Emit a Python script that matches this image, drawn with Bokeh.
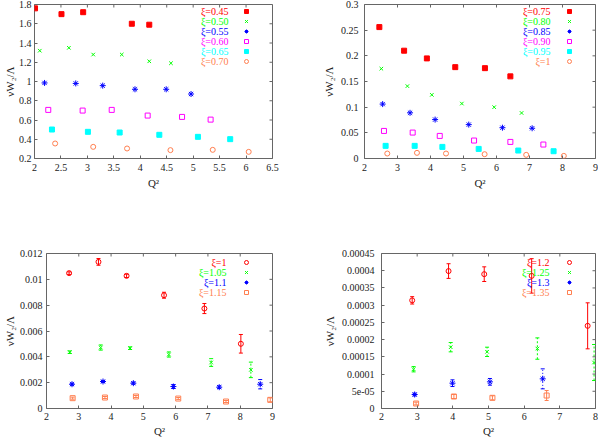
import math
from bokeh.plotting import figure
from bokeh.models import (Range1d, FixedTicker, Whisker, TeeHead,
                          ColumnDataSource, Label, Legend, LegendItem)
from bokeh.layouts import row, column
from bokeh.embed import file_html
from bokeh.resources import INLINE

FONT = "Liberation Serif"

RED = "#ff0000"
GREEN = "#00ff00"
BLUE = "#0000ff"
MAGENTA = "#ff00ff"
CYAN = "#00ffff"
ORANGE = "#ff7f50"

# ---------------- panel 1 data ----------------
p1_labels = ["ξ=0.45", "ξ=0.50", "ξ=0.55", "ξ=0.60", "ξ=0.65", "ξ=0.70"]
xi045_q2 = [2.01, 2.51, 2.92, 3.84, 4.17]
xi045_w = [1.76, 1.70, 1.72, 1.60, 1.59]
xi050_q2 = [2.10, 2.65, 3.11, 3.65, 4.17, 4.58]
xi050_w = [1.32, 1.35, 1.28, 1.28, 1.21, 1.19]
xi055_q2 = [2.19, 2.78, 3.29, 3.90, 4.49, 4.96]
xi055_w = [0.985, 0.98, 0.957, 0.919, 0.919, 0.870]
xi060_q2 = [2.26, 2.91, 3.46, 4.14, 4.79, 5.33]
xi060_w = [0.705, 0.698, 0.705, 0.646, 0.632, 0.604]
xi065_q2 = [2.33, 3.01, 3.61, 4.36, 5.09, 5.70]
xi065_w = [0.501, 0.477, 0.470, 0.446, 0.425, 0.401]
xi070_q2 = [2.39, 3.11, 3.75, 4.57, 5.37, 6.05]
xi070_w = [0.356, 0.321, 0.304, 0.287, 0.290, 0.269]
p1_xticks = [2, 2.5, 3, 3.5, 4, 4.5, 5, 5.5, 6, 6.5]
p1_xlabels = ["2", "2.5", "3", "3.5", "4", "4.5", "5", "5.5", "6", "6.5"]
p1_yticks = [0.2, 0.4, 0.6, 0.8, 1.0, 1.2, 1.4, 1.6, 1.8]
p1_ylabels = ["0.2", "0.4", "0.6", "0.8", "1", "1.2", "1.4", "1.6", "1.8"]

# ---------------- panel 2 data ----------------
p2_labels = ["ξ=0.75", "ξ=0.80", "ξ=0.85", "ξ=0.90", "ξ=0.95", "ξ=1"]
xi075_q2 = [2.45, 3.20, 3.89, 4.75, 5.65, 6.42]
xi075_w = [0.256, 0.210, 0.195, 0.178, 0.176, 0.160]
xi080_q2 = [2.51, 3.30, 4.04, 4.95, 5.93, 6.76]
xi080_w = [0.175, 0.141, 0.124, 0.107, 0.100, 0.0887]
xi085_q2 = [2.55, 3.38, 4.14, 5.16, 6.18, 7.08]
xi085_w = [0.106, 0.089, 0.0758, 0.066, 0.060, 0.0589]
xi090_q2 = [2.59, 3.46, 4.28, 5.32, 6.42, 7.42]
xi090_w = [0.0537, 0.0505, 0.044, 0.035, 0.0323, 0.0272]
xi095_q2 = [2.64, 3.52, 4.36, 5.46, 6.66, 7.73]
xi095_w = [0.0246, 0.0246, 0.0226, 0.0187, 0.0155, 0.0142]
xi100_q2 = [2.69, 3.59, 4.47, 5.64, 6.90, 8.04]
xi100_w = [0.0097, 0.011, 0.0097, 0.0084, 0.0071, 0.0051]
p2_xticks = [2, 3, 4, 5, 6, 7, 8, 9]
p2_xlabels = ["2", "3", "4", "5", "6", "7", "8", "9"]
p2_yticks = [0, 0.05, 0.1, 0.15, 0.2, 0.25, 0.3]
p2_ylabels = ["0", "0.05", "0.1", "0.15", "0.2", "0.25", "0.3"]

# ---------------- panel 3 data ----------------
p3_labels = ["ξ=1", "ξ=1.05", "ξ=1.1", "ξ=1.15"]
xi100b_q2 = [2.70, 3.61, 4.48, 5.64, 6.89, 8.02]
xi100b_w = [0.01048, 0.01135, 0.01027, 0.00877, 0.00774, 0.00501]
xi100b_err = [0.0001, 0.00026, 0.00013, 0.00023, 0.00039, 0.00072]
xi105_q2 = [2.72, 3.68, 4.59, 5.79, 7.10, 8.33]
xi105_w = [0.00436, 0.00472, 0.00467, 0.00418, 0.00356, 0.00299]
xi105_err = [0.0001, 0.0002, 0.0001, 0.0002, 0.0003, 0.0006]
xi110_q2 = [2.79, 3.75, 4.69, 5.93, 7.35, 8.62]
xi110_w = [0.00188, 0.00209, 0.00196, 0.0017, 0.00165, 0.00188]
xi110_err = [0.00008, 0.00008, 0.00008, 0.00015, 0.0001, 0.00036]
xi115_q2 = [2.81, 3.81, 4.77, 6.08, 7.56, 8.93]
xi115_w = [0.0008, 0.00085, 0.00093, 0.00077, 0.00054, 0.00067]
xi115_err = [0.00008, 0.00008, 0.00008, 0.00008, 0.00008, 0.00015]
p3_xticks = [2, 3, 4, 5, 6, 7, 8, 9]
p3_xlabels = ["2", "3", "4", "5", "6", "7", "8", "9"]
p3_yticks = [0, 0.002, 0.004, 0.006, 0.008, 0.01, 0.012]
p3_ylabels = ["0", "0.002", "0.004", "0.006", "0.008", "0.01", "0.012"]

# ---------------- panel 4 data ----------------
p4_labels = ["ξ=1.2", "ξ=1.25", "ξ=1.3", "ξ=1.35"]
xi120_q2 = [2.86, 3.88, 4.88, 6.21, 7.78]
xi120_w = [0.000314, 0.000399, 0.00039, 0.000385, 0.00024]
xi120_err = [0.0000107, 0.0000213, 0.0000213, 0.00005, 0.0000668]
xi125_q2 = [2.90, 3.94, 4.96, 6.37, 7.96]
xi125_w = [0.000114, 0.000178, 0.0001645, 0.000174, 0.0001335]
xi125_err = [0.0000077, 0.0000135, 0.0000135, 0.000031, 0.0000523]
xi130_q2 = [2.93, 3.99, 5.04, 6.52]
xi130_w = [0.0000406, 0.0000735, 0.0000774, 0.0000861]
xi130_err = [0.000004, 0.0000097, 0.0000097, 0.000029]
xi135_q2 = [2.97, 4.03, 5.11, 6.63]
xi135_w = [0.0000145, 0.0000348, 0.000031, 0.0000377]
xi135_err = [0.000004, 0.0000058, 0.0000058, 0.0000145]
p4_xticks = [2, 3, 4, 5, 6, 7, 8]
p4_xlabels = ["2", "3", "4", "5", "6", "7", "8"]
p4_yticks = [0, 0.00005, 0.0001, 0.00015, 0.0002, 0.00025, 0.0003, 0.00035, 0.0004, 0.00045]
p4_ylabels = ["0", "5e-05", "0.0001", "0.00015", "0.0002", "0.00025", "0.0003",
              "0.00035", "0.0004", "0.00045"]

STYLES = {
    "sq_fill": dict(marker="square", size=5, filled=True),
    "cross": dict(marker="x", size=5, filled=False),
    "star": dict(marker="asterisk", size=6, filled=False),
    "sq_open": dict(marker="square", size=5, filled=False),
    "circ_open": dict(marker="circle", size=5, filled=False),
}

FRAME = "#666666"
TEXT = "#222222"


def make_panel(width, height, border, xr, yr, xticks, xlabels, yticks, ylabels,
               series, labels, legend_geom, ystandoff, xstandoff, tick_standoff_y, tick_standoff_x):
    p = figure(width=width, height=height, output_backend="svg", toolbar_location=None,
               x_range=Range1d(*xr), y_range=Range1d(*yr),
               min_border_left=border[0], min_border_right=border[1],
               min_border_top=border[2], min_border_bottom=border[3],
               background_fill_color="white", border_fill_color="white")
    p.xgrid.visible = False
    p.ygrid.visible = False
    p.outline_line_color = FRAME
    p.outline_line_width = 1

    for ax, ticks, labs in ((p.xaxis[0], xticks, xlabels), (p.yaxis[0], yticks, ylabels)):
        ax.ticker = FixedTicker(ticks=ticks)
        ax.major_label_overrides = dict(zip(ticks, labs))
        ax.axis_line_color = None
        ax.major_tick_in = 3
        ax.major_tick_out = 0
        ax.major_tick_line_color = FRAME
        ax.minor_tick_line_color = None
        ax.major_label_text_font = FONT
        ax.major_label_text_font_size = "10px"
        ax.major_label_text_color = TEXT
        ax.axis_label_text_font = FONT
        ax.axis_label_text_font_size = "11px"
        ax.axis_label_text_font_style = "normal"
        ax.axis_label_text_color = TEXT
    p.xaxis[0].axis_label = "Q²"
    p.yaxis[0].axis_label = "νW₂/Λ"
    p.yaxis[0].axis_label_standoff = ystandoff
    p.xaxis[0].axis_label_standoff = xstandoff
    p.yaxis[0].major_label_standoff = tick_standoff_y
    p.xaxis[0].major_label_standoff = tick_standoff_x

    # mirrored tick marks on the top and right frame edges
    p.ray(x=xticks, y=[yr[1]] * len(xticks), length=3, angle=-math.pi / 2,
          length_units="screen", line_color=FRAME, line_width=1)
    p.ray(x=[xr[1]] * len(yticks), y=yticks, length=3, angle=math.pi,
          length_units="screen", line_color=FRAME, line_width=1)

    items = []
    (lx, ly, tx, ty_list) = legend_geom
    for (q2, w, err, color, style, dash), lab, ty in zip(series, labels, ty_list):
        if err is not None:
            src = ColumnDataSource(dict(x=q2, upper=[a + b for a, b in zip(w, err)],
                                        lower=[a - b for a, b in zip(w, err)]))
            wk = Whisker(base="x", upper="upper", lower="lower", source=src,
                         line_color=color, line_width=1, line_dash=dash,
                         upper_head=TeeHead(size=4, line_color=color, line_width=1),
                         lower_head=TeeHead(size=4, line_color=color, line_width=1),
                         level="underlay")
            p.add_layout(wk)
        st = STYLES[style]
        fill = color if st["filled"] else None
        r = p.scatter(q2, w, marker=st["marker"], size=st["size"], line_color=color,
                      fill_color=fill, line_width=1)
        items.append(LegendItem(label=" ", renderers=[r]))
        p.add_layout(Label(x=tx, y=ty, x_units="screen", y_units="screen", text=lab,
                           text_align="right", text_baseline="middle", text_color=color,
                           text_font=FONT, text_font_size="10px"))
    leg = Legend(items=items, location=(lx, ly), padding=0, margin=0, spacing=0,
                 glyph_width=10, glyph_height=10, label_height=10, label_width=0,
                 label_standoff=0, label_text_font_size="1px",
                 background_fill_alpha=0, border_line_alpha=0)
    p.add_layout(leg)
    return p


s1 = [(xi045_q2, xi045_w, None, RED, "sq_fill", "solid"),
      (xi050_q2, xi050_w, None, GREEN, "cross", "solid"),
      (xi055_q2, xi055_w, None, BLUE, "star", "solid"),
      (xi060_q2, xi060_w, None, MAGENTA, "sq_open", "solid"),
      (xi065_q2, xi065_w, None, CYAN, "sq_fill", "solid"),
      (xi070_q2, xi070_w, None, ORANGE, "circ_open", "solid")]
s2 = [(xi075_q2, xi075_w, None, RED, "sq_fill", "solid"),
      (xi080_q2, xi080_w, None, GREEN, "cross", "solid"),
      (xi085_q2, xi085_w, None, BLUE, "star", "solid"),
      (xi090_q2, xi090_w, None, MAGENTA, "sq_open", "solid"),
      (xi095_q2, xi095_w, None, CYAN, "sq_fill", "solid"),
      (xi100_q2, xi100_w, None, ORANGE, "circ_open", "solid")]
s3 = [(xi100b_q2, xi100b_w, xi100b_err, RED, "circ_open", "solid"),
      (xi105_q2, xi105_w, xi105_err, GREEN, "cross", "2 2"),
      (xi110_q2, xi110_w, xi110_err, BLUE, "star", "1 2"),
      (xi115_q2, xi115_w, xi115_err, ORANGE, "sq_open", "solid")]
s4 = [(xi120_q2, xi120_w, xi120_err, RED, "circ_open", "solid"),
      (xi125_q2, xi125_w, xi125_err, GREEN, "cross", "2 2"),
      (xi130_q2, xi130_w, xi130_err, BLUE, "star", "1 2"),
      (xi135_q2, xi135_w, xi135_err, ORANGE, "sq_open", "solid")]

top_rows = [147, 137, 127, 117, 107, 97]
bot_rows = [146.5, 136.5, 126.5, 116.5]

p1 = make_panel(298, 219, (34, 26, 4, 61), (2, 6.5), (0.2, 1.8),
                p1_xticks, p1_xlabels, p1_yticks, p1_ylabels, s1, p1_labels,
                (207, 92, 194, top_rows), 0, 3, 3, 5)
p2 = make_panel(300, 219, (66, 3, 4, 61), (2, 9), (0, 0.3),
                p2_xticks, p2_xlabels, p2_yticks, p2_ylabels, s2, p2_labels,
                (200, 92, 186, top_rows), 3, 3, 6, 5)
p3 = make_panel(298, 220, (46, 26, 34, 31), (2, 9), (0, 0.012),
                p3_xticks, p3_xlabels, p3_yticks, p3_ylabels, s3, p3_labels,
                (195, 111, 180, bot_rows), 1, 2, 4, 4)
p4 = make_panel(300, 220, (83, 3, 34, 31), (2, 8), (0, 0.00045),
                p4_xticks, p4_xlabels, p4_yticks, p4_ylabels, s4, p4_labels,
                (183, 111, 168, bot_rows), 3, 2, 7, 4)

layout = column(row(p1, p2, spacing=0), row(p3, p4, spacing=0), spacing=0)

open("out.html", "w").write(file_html(layout, INLINE))
